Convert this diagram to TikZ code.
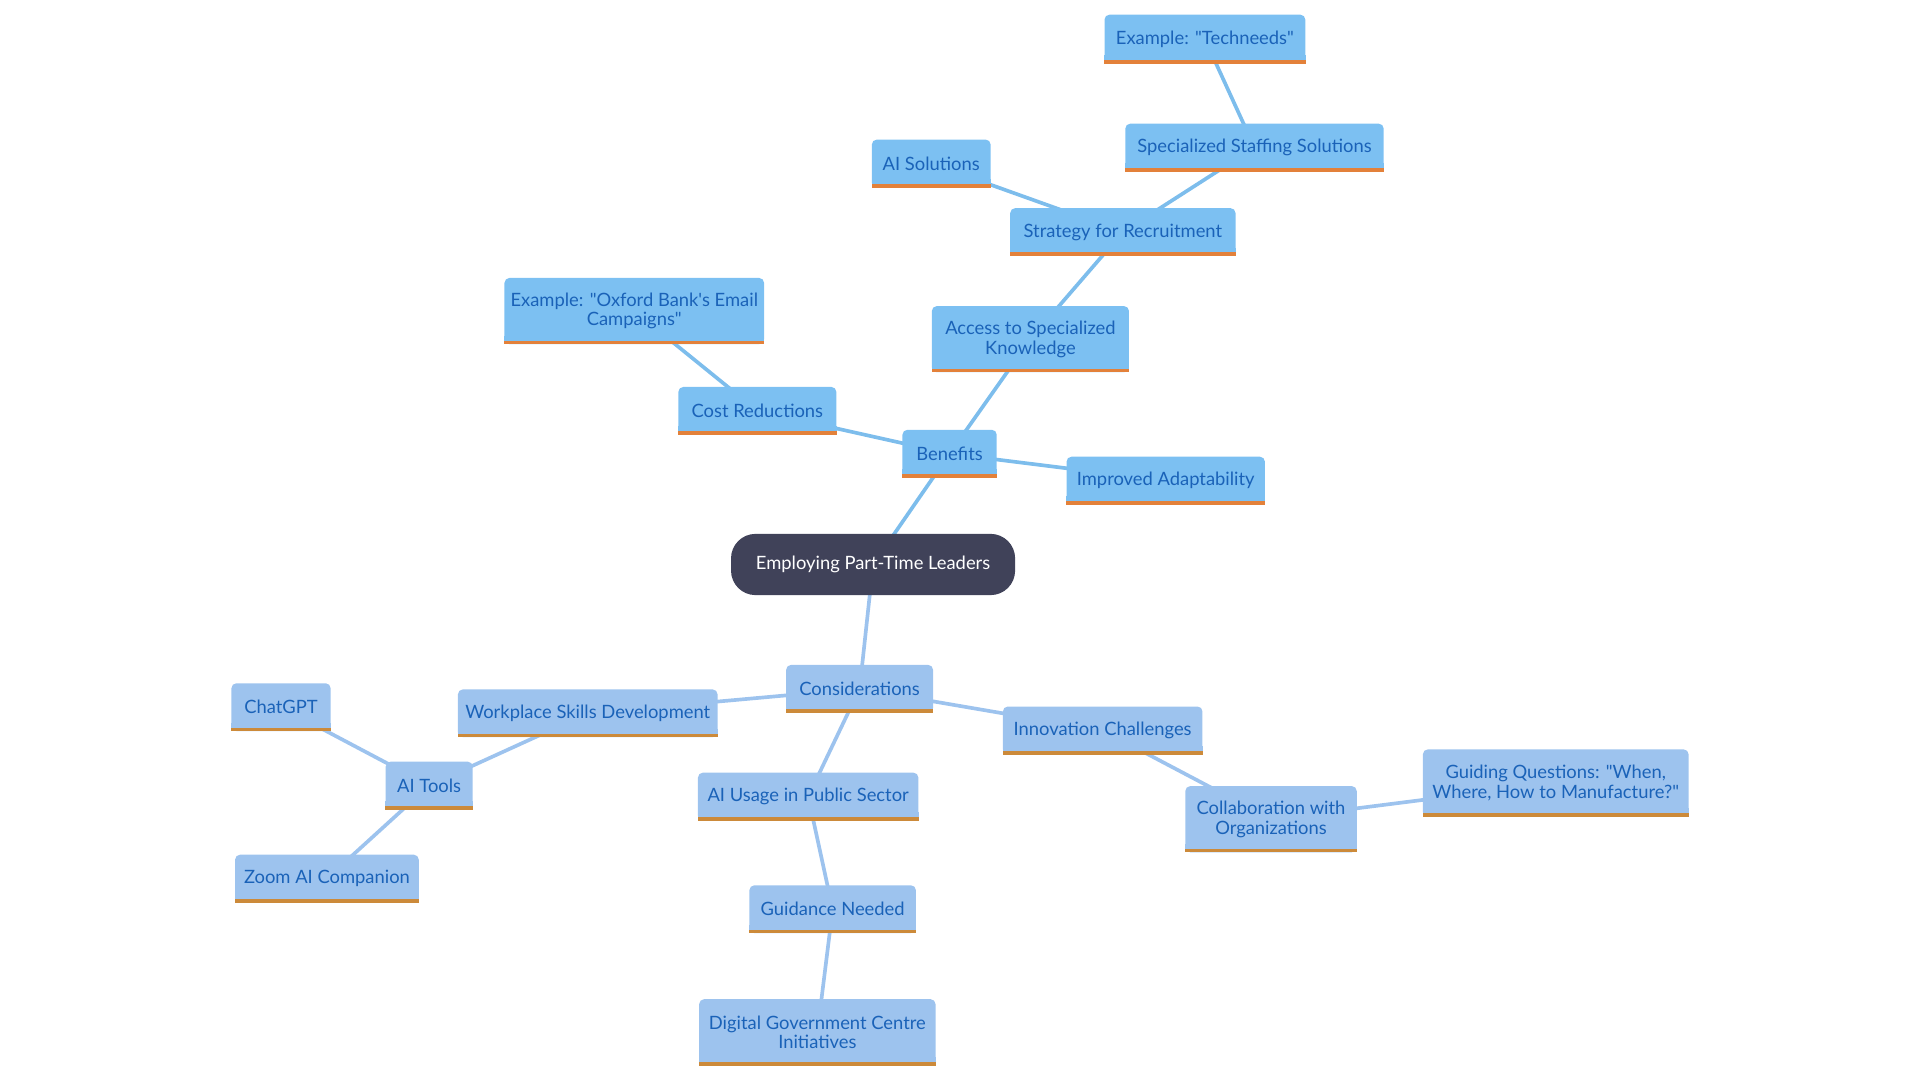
\documentclass[tikz,border=0pt]{standalone}
\usepackage{fontspec}
\setmainfont{Lato}[Ligatures=TeXOff]
\pgfdeclarelayer{background}
\pgfsetlayers{background,main}
\definecolor{benfill}{HTML}{7CC0F2}
\definecolor{confill}{HTML}{9DC3EE}
\definecolor{benbar}{HTML}{E3813A}
\definecolor{conbar}{HTML}{CC8A3A}
\definecolor{txtblue}{HTML}{1A62B8}
\definecolor{rootfill}{HTML}{404259}
\definecolor{benedge}{HTML}{7DBDEC}
\definecolor{conedge}{HTML}{9DC3EE}
\tikzset{
  mmnode/.style={rectangle, rounded corners=4pt, inner sep=0pt, align=center,
    text=txtblue, font=\fontsize{15}{16}\selectfont},
  rootnode/.style={rectangle, rounded corners=20pt, inner sep=0pt, fill=rootfill,
    text=white, font=\fontsize{15}{16}\selectfont},
  benline/.style={draw=benedge, line width=3pt},
  conline/.style={draw=conedge, line width=3pt}
}
% #1 fill, #2 bar, #3 name, #4 position, #5 width, #6 height, #7 text
\newcommand\mmbox[7]{%
  \node[mmnode, fill=#1, minimum width=#5pt, minimum height=#6pt] (#3) at (#4) {#7};
  \fill[#1] ([yshift=3pt]#3.south west) rectangle ([yshift=7pt]#3.south east);
  \fill[#2] (#3.south west) rectangle ([yshift=3pt]#3.south east);
}
\begin{document}
\begin{tikzpicture}[x=1pt, y=-1pt]
\useasboundingbox (0,0) rectangle (1568,882);

\node[rootnode, minimum width=232pt, minimum height=50pt] (root) at (713,461) {Employing Part-Time Leaders};

% Benefits branch
\mmbox{benfill}{benbar}{benefits}{775.5,370.5}{77}{39}{Benefits}
\mmbox{benfill}{benbar}{access}{841.5,277}{161}{54}{Access to Specialized\\Knowledge}
\mmbox{benfill}{benbar}{strategy}{917,189.5}{184}{39}{Strategy for Recruitment}
\mmbox{benfill}{benbar}{aisol}{760.5,133.5}{97}{39}{AI Solutions}
\mmbox{benfill}{benbar}{staffing}{1024.5,120.5}{211}{39}{Specialized Staffing Solutions}
\mmbox{benfill}{benbar}{techneeds}{984,32}{164}{40}{Example: "Techneeds"}
\mmbox{benfill}{benbar}{cost}{618.5,335.5}{129}{39}{Cost Reductions}
\mmbox{benfill}{benbar}{oxford}{518,254}{212}{54}{Example: "Oxford Bank's Email\\Campaigns"}
\mmbox{benfill}{benbar}{adapt}{952,392.5}{162}{39}{Improved Adaptability}

% Considerations branch
\mmbox{confill}{conbar}{consid}{702,562.5}{120}{39}{Considerations}
\mmbox{confill}{conbar}{workplace}{480,582.5}{212}{39}{Workplace Skills Development}
\mmbox{confill}{conbar}{aitools}{350.5,641.5}{71}{39}{AI Tools}
\mmbox{confill}{conbar}{chatgpt}{229.5,577.5}{81}{39}{ChatGPT}
\mmbox{confill}{conbar}{zoomai}{267,717.5}{150}{39}{Zoom AI Companion}
\mmbox{confill}{conbar}{aiusage}{660,650.5}{180}{39}{AI Usage in Public Sector}
\mmbox{confill}{conbar}{guidance}{680,742.5}{136}{39}{Guidance Needed}
\mmbox{confill}{conbar}{digital}{667.5,843}{193}{54}{Digital Government Centre\\Initiatives}
\mmbox{confill}{conbar}{innov}{900.5,596.5}{163}{39}{Innovation Challenges}
\mmbox{confill}{conbar}{collab}{1038,669}{140}{54}{Collaboration with\\Organizations}
\mmbox{confill}{conbar}{guiding}{1270.5,639.5}{217}{55}{Guiding Questions: "When,\\Where, How to Manufacture?"}

\begin{pgfonlayer}{background}
\path[benline] (root.center) -- (benefits.center);
\path[benline] (benefits.center) -- (access.center);
\path[benline] (access.center) -- (strategy.center);
\path[benline] (strategy.center) -- (aisol.center);
\path[benline] (strategy.center) -- (staffing.center);
\path[benline] (staffing.center) -- (techneeds.center);
\path[benline] (benefits.center) -- (cost.center);
\path[benline] (cost.center) -- (oxford.center);
\path[benline] (benefits.center) -- (adapt.center);
\path[conline] (root.center) -- (consid.center);
\path[conline] (consid.center) -- (workplace.center);
\path[conline] (workplace.center) -- (aitools.center);
\path[conline] (aitools.center) -- (chatgpt.center);
\path[conline] (aitools.center) -- (zoomai.center);
\path[conline] (consid.center) -- (aiusage.center);
\path[conline] (aiusage.center) -- (guidance.center);
\path[conline] (guidance.center) -- (digital.center);
\path[conline] (consid.center) -- (innov.center);
\path[conline] (innov.center) -- (collab.center);
\path[conline] (collab.center) -- (guiding.center);
\end{pgfonlayer}
\end{tikzpicture}
\end{document}
